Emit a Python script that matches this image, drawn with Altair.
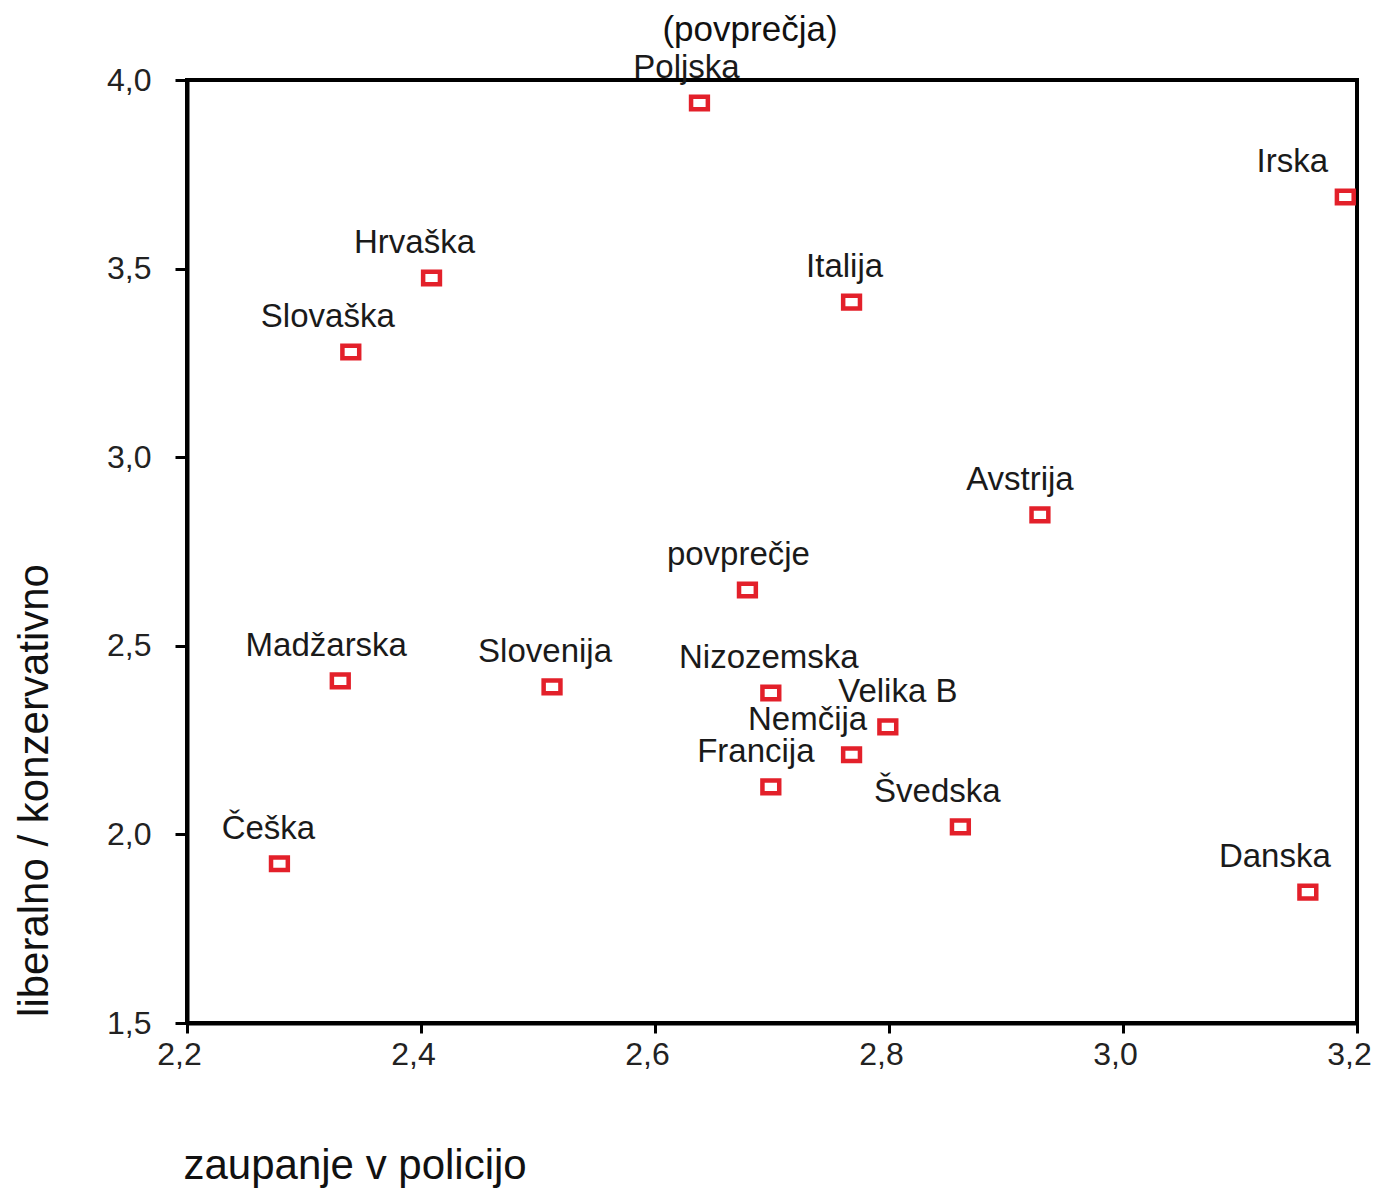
import altair as alt
import pandas as pd

countries = ["Poljska", "Irska", "Hrvaška", "Italija", "Slovaška", "Avstrija",
             "povprečje", "Madžarska", "Slovenija", "Nizozemska", "Velika B",
             "Nemčija", "Francija", "Švedska", "Češka", "Danska"]
trust = [2.638, 3.190, 2.409, 2.768, 2.340, 2.929,
         2.679, 2.331, 2.512, 2.699, 2.799,
         2.768, 2.699, 2.861, 2.279, 3.158]
conservative = [3.939, 3.690, 3.475, 3.411, 3.279, 2.847,
                2.648, 2.407, 2.391, 2.375, 2.285,
                2.211, 2.126, 2.020, 1.922, 1.847]
x_ticks = [2.2, 2.4, 2.6, 2.8, 3.0, 3.2]
y_ticks = [1.5, 2.0, 2.5, 3.0, 3.5, 4.0]

# label nudges (pixels) as placed in the original
label_dx = [-13, -53, -17, -7, -23, -20, -9, -14, -7, -2, 10, -44, -15, -23, -11, -33]

df = pd.DataFrame({"land": countries, "trust": trust, "cons": conservative})

FONT = "Liberation Sans"
comma = "replace(format(datum.value, '.1f'), '.', ',')"

x_enc = alt.X("trust:Q",
              scale=alt.Scale(domain=[2.2, 3.2], nice=False, zero=False),
              axis=alt.Axis(values=x_ticks, labelExpr=comma, grid=False,
                            labelFlush=False, labelOffset=-8,
                            title="zaupanje v policijo",
                            titleX=-4, titleY=155, titleAlign="left",
                            titleBaseline="alphabetic",
                            labelPadding=6, tickSize=10))
y_enc = alt.Y("cons:Q",
              scale=alt.Scale(domain=[1.5, 4.0], nice=False, zero=False),
              axis=alt.Axis(values=y_ticks, labelExpr=comma, grid=False,
                            labelFlush=False,
                            title="liberalno / konzervativno",
                            titleX=-140, titleY=710, titleAlign="center",
                            titleBaseline="alphabetic", titleAngle=270,
                            labelPadding=24, tickSize=12))

base = alt.Chart(df)

points = base.mark_point(
    shape="M-1.2,-0.9L1.2,-0.9L1.2,0.9L-1.2,0.9Z",
    size=196, filled=False, stroke="#e3202a", strokeWidth=4.5, opacity=1
).encode(x=x_enc, y=y_enc)

texts = []
for name, ddx in zip(countries, label_dx):
    texts.append(
        base.transform_filter(alt.datum.land == name)
        .mark_text(font=FONT, fontSize=33, color="#1a1a1a", dx=ddx, dy=-35,
                   align="center", baseline="middle")
        .encode(x="trust:Q", y="cons:Q", text="land:N")
    )

chart = alt.layer(points, *texts).properties(
    width=1170, height=943,
    title=alt.TitleParams("(povprečja)", font=FONT, fontSize=35,
                          fontWeight="normal", color="#111", anchor="middle",
                          dx=-22, offset=4),
    autosize=alt.AutoSizeParams(type="none"),
    padding={"left": 179, "top": 72, "right": 14, "bottom": 176},
).configure_view(
    stroke="black", strokeWidth=4
).configure_axis(
    domainColor="black", domainWidth=4,
    tickColor="black", tickWidth=3,
    labelFont=FONT, labelFontSize=32, labelColor="#222",
    titleFont=FONT, titleFontSize=42, titleFontWeight="normal", titleColor="#111",
)

chart.save("out.html", embed_options={"renderer": "svg", "actions": False})
